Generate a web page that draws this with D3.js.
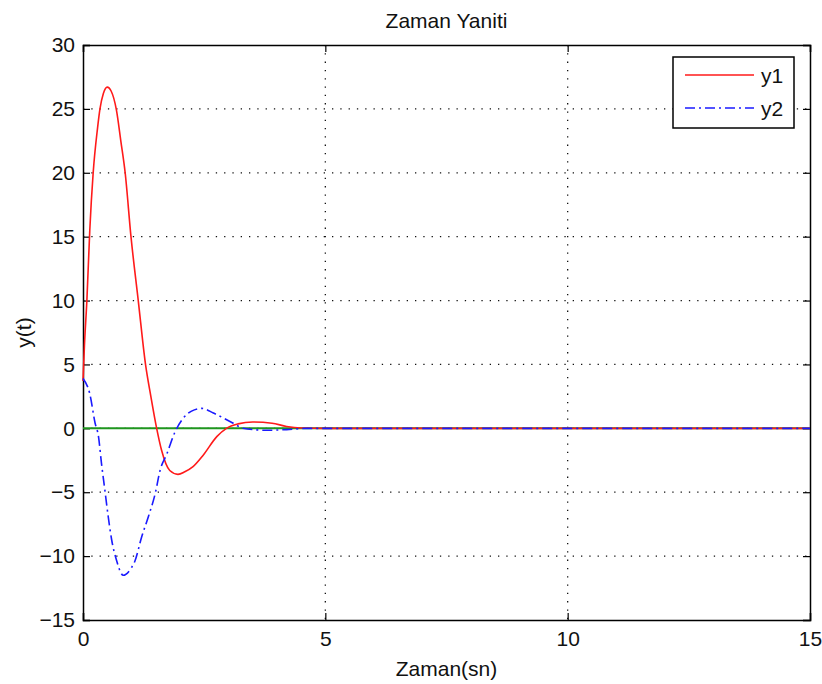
<!DOCTYPE html>
<meta charset="utf-8">
<style>
    body { margin: 0; background: #fff; }
    svg text { font-family: "Liberation Sans", Arial, sans-serif; fill: #111; }
</style>
<script src="https://cdnjs.cloudflare.com/ajax/libs/d3/7.8.5/d3.min.js"></script>
<div id="chart"></div>
<script>
    // time (sn) and responses
    var t1 = [0, 0.03, 0.08, 0.14, 0.21, 0.3, 0.35, 0.42, 0.5, 0.58, 0.69, 0.78, 0.87, 0.99, 1.14, 1.29, 1.4, 1.52, 1.62, 1.79, 1.96, 2.1, 2.27, 2.48, 2.76, 2.96, 3.2, 3.5, 3.9, 4.2, 4.5, 5, 7.5, 10, 12.5, 15];
    var y1 = [3.7, 6.5, 10, 15.5, 20, 23.5, 25, 26.2, 26.7, 26.4, 24.9, 22.5, 20, 15, 10, 5, 2.5, 0, -1.7, -3.3, -3.6, -3.4, -3.0, -2.1, -0.65, 0, 0.35, 0.5, 0.4, 0.15, 0.03, 0, 0, 0, 0, 0];

    var t2 = [0, 0.14, 0.25, 0.32, 0.38, 0.45, 0.52, 0.59, 0.69, 0.83, 1.0, 1.07, 1.21, 1.35, 1.49, 1.59, 1.73, 1.9, 2.07, 2.24, 2.45, 2.69, 2.9, 3.1, 3.3, 3.79, 4.2, 4.6, 5, 7.5, 10, 12.5, 15];
    var y2 = [3.9, 2.7, 0.4, -0.65, -2.7, -4.8, -6.9, -8.7, -10.3, -11.5, -10.9, -10.4, -8.5, -6.9, -5.1, -3.3, -2.0, -0.27, 0.8, 1.35, 1.56, 1.2, 0.8, 0.4, 0, -0.15, -0.1, 0, 0, 0, 0, 0, 0];

    // reference (zero) line
    var tRef = [0, 15];
    var yRef = [0, 0];

    var xTicks = [0, 5, 10, 15];
    var yTicks = [-15, -10, -5, 0, 5, 10, 15, 20, 25, 30];
    var seriesNames = ["y1", "y2"];

    var margin = {top: 45, right: 12, bottom: 64, left: 83},
        width = 822 - margin.left - margin.right,
        height = 684 - margin.top - margin.bottom;

    var svg = d3.select("#chart").append("svg")
        .attr("width", 822)
        .attr("height", 684);
    var g = svg.append("g")
        .attr("transform", "translate(" + margin.left + "," + margin.top + ")");

    var x = d3.scaleLinear().domain([0, 15]).range([0, width]);
    var y = d3.scaleLinear().domain([-15, 30]).range([height, 0]);

    // dotted grid
    g.selectAll("line.gx").data(xTicks.slice(1, -1)).enter().append("line")
        .attr("x1", function(d){ return x(d); }).attr("x2", function(d){ return x(d); })
        .attr("y1", 0).attr("y2", height)
        .attr("stroke", "#111").attr("stroke-width", 1.3).attr("stroke-dasharray", "1.3,7");
    g.selectAll("line.gy").data(yTicks.slice(1, -1)).enter().append("line")
        .attr("y1", function(d){ return y(d); }).attr("y2", function(d){ return y(d); })
        .attr("x1", 0).attr("x2", width)
        .attr("stroke", "#111").attr("stroke-width", 1.3).attr("stroke-dasharray", "1.3,7");

    // box axes, ticks pointing inward
    var axB = d3.axisBottom(x).tickValues(xTicks).tickSize(-7).tickPadding(11).tickFormat(d3.format("d"));
    var axT = d3.axisTop(x).tickValues(xTicks).tickSize(-7).tickFormat("");
    var axL = d3.axisLeft(y).tickValues(yTicks).tickSize(-7).tickPadding(8).tickFormat(d3.format("d"));
    var axR = d3.axisRight(y).tickValues(yTicks).tickSize(-7).tickFormat("");

    [[axB, "translate(0," + height + ")"], [axT, null], [axL, null], [axR, "translate(" + width + ",0)"]].forEach(function(a){
        var ag = g.append("g").call(a[0]);
        if (a[1]) ag.attr("transform", a[1]);
        ag.select(".domain").attr("stroke", "#000").attr("stroke-width", 1.5);
        ag.selectAll(".tick line").attr("stroke", "#000").attr("stroke-width", 1.2);
        ag.selectAll("text").style("font-size", "21px").attr("fill", "#111");
    });

    var line = d3.line()
        .x(function(d){ return x(d[0]); })
        .y(function(d){ return y(d[1]); })
        .curve(d3.curveMonotoneX);

    g.append("path").datum(d3.zip(tRef, yRef)).attr("d", line)
        .attr("fill", "none").attr("stroke", "#1f961f").attr("stroke-width", 2);
    g.append("path").datum(d3.zip(t1, y1)).attr("d", line)
        .attr("fill", "none").attr("stroke", "#ff1a1a").attr("stroke-width", 1.6);
    g.append("path").datum(d3.zip(t2, y2)).attr("d", line)
        .attr("fill", "none").attr("stroke", "#1a1aff").attr("stroke-width", 1.6)
        .attr("stroke-dasharray", "10,4,2,4");

    // legend
    var lg = g.append("g").attr("transform", "translate(" + (width - 137) + ",12)");
    lg.append("rect").attr("width", 121).attr("height", 71)
        .attr("fill", "#fff").attr("stroke", "#000").attr("stroke-width", 1.5);
    var legColors = ["#ff1a1a", "#1a1aff"], legDash = [null, "10,4,2,4"];
    seriesNames.forEach(function(n, i){
        lg.append("line").attr("x1", 12).attr("x2", 81)
            .attr("y1", 18 + i * 33).attr("y2", 18 + i * 33)
            .attr("stroke", legColors[i]).attr("stroke-width", 1.6)
            .attr("stroke-dasharray", legDash[i]);
        lg.append("text").attr("x", 88).attr("y", 18 + i * 33).attr("dy", "0.36em")
            .style("font-size", "21px").text(n);
    });

    // titles
    svg.append("text").attr("x", margin.left + width / 2).attr("y", 28)
        .attr("text-anchor", "middle").style("font-size", "21px").text("Zaman Yaniti");
    svg.append("text").attr("x", margin.left + width / 2).attr("y", 676)
        .attr("text-anchor", "middle").style("font-size", "21px").text("Zaman(sn)");
    svg.append("text").attr("transform", "translate(31," + (margin.top + height / 2) + ") rotate(-90)")
        .attr("text-anchor", "middle").style("font-size", "21px").text("y(t)");
</script>
